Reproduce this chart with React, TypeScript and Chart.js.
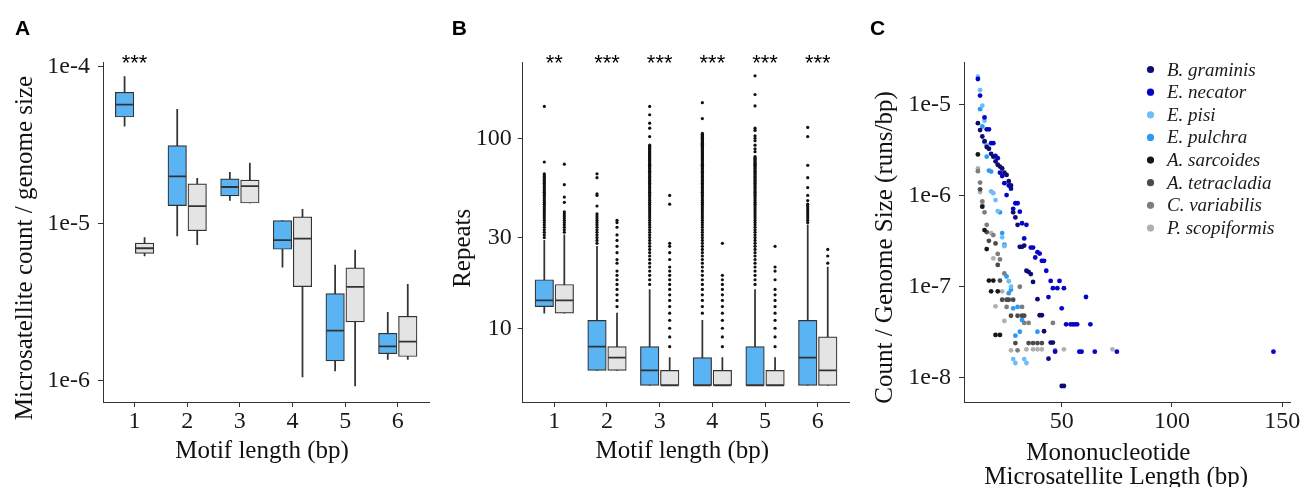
import React, { useEffect, useRef } from "react";
import { Chart, registerables } from "chart.js";
Chart.register(...registerables);

const SERIF = "'Liberation Serif', 'Times New Roman', serif";
const SANS = "'Liberation Sans', Arial, sans-serif";
const INK = "#333333";
const TEXT = "#1a1a1a";
const BLUE = "#5ab4f4";
const GREY = "#e4e4e4";
const DODGE = 0.19;
const BOX_W = 18.5;
const TICK_FONT = 24;

// ---------- shared categories ----------
const motifLengths = [1, 2, 3, 4, 5, 6];
const motifTickLabels = ["1", "2", "3", "4", "5", "6"];

// ---------- Panel A: microsatellite count / genome size ----------
const aBlueMin = [4.2e-5, 8.4e-6, 1.41e-5, 5.3e-6, 1.16e-6, 1.37e-6];
const aBlueQ1 = [4.8e-5, 1.31e-5, 1.51e-5, 6.9e-6, 1.34e-6, 1.49e-6];
const aBlueMed = [5.75e-5, 2.01e-5, 1.72e-5, 7.9e-6, 2.09e-6, 1.66e-6];
const aBlueQ3 = [6.9e-5, 3.16e-5, 1.94e-5, 1.05e-5, 3.6e-6, 2.01e-6];
const aBlueMax = [8.7e-5, 5.37e-5, 2.13e-5, 1.05e-5, 5.48e-6, 2.74e-6];
const aGreyMin = [6.25e-6, 7.38e-6, 1.36e-5, 1.06e-6, 9.3e-7, 1.37e-6];
const aGreyQ1 = [6.5e-6, 9.06e-6, 1.36e-5, 3.99e-6, 2.38e-6, 1.43e-6];
const aGreyMed = [7.0e-6, 1.3e-5, 1.74e-5, 8.06e-6, 3.97e-6, 1.78e-6];
const aGreyQ3 = [7.56e-6, 1.8e-5, 1.9e-5, 1.11e-5, 5.25e-6, 2.58e-6];
const aGreyMax = [8.2e-6, 1.95e-5, 2.44e-5, 1.24e-5, 6.82e-6, 4.13e-6];
const aTickValues = [1e-6, 1e-5, 1e-4];
const aTickLabels = ["1e-6", "1e-5", "1e-4"];
const aSignif = ["***", "", "", "", "", ""];

// ---------- Panel B: repeats ----------
const bBlueMin = [12, 6, 5, 5, 5, 5];
const bBlueQ1 = [13, 6, 5, 5, 5, 5];
const bBlueMed = [14, 8, 6, 5, 5, 7];
const bBlueQ3 = [18, 11, 8, 7, 8, 11];
const bBlueMax = [29, 27, 16, 11, 16, 35];
const bGreyMin = [12, 6, 5, 5, 5, 5];
const bGreyQ1 = [12, 6, 5, 5, 5, 5];
const bGreyMed = [14, 7, 5, 5, 5, 6];
const bGreyQ3 = [17, 8, 6, 6, 6, 9];
const bGreyMax = [31, 12, 7, 7, 7, 21];
const bTickValues = [10, 30, 100];
const bTickLabels = ["10", "30", "100"];
const bSignif = ["**", "***", "***", "***", "***", "***"];

const bBlueOut1 = [30,31,32,33,34,35,36,37,38,39,40,41,42,43,44,45,46,47,48,49,50,51,52,53,54,55,56,57,58,59,60,61,62,63,64,65,75,147];
const bBlueOut2 = [28,29,30,31,32,33,34,35,36,37,38,39,40,44,50,51,62,65];
const bBlueOut3 = [17,18,19,20,21,22,23,24,25,26,27,28,29,30,31,32,33,34,35,36,37,38,39,40,41,42,43,44,45,46,47,48,49,50,51,52,53,54,55,56,57,58,59,60,61,62,63,64,65,66,67,68,69,70,71,72,73,74,75,76,77,78,79,80,81,82,83,84,85,86,87,88,89,90,91,92,102,113,120,133,147];
const bBlueOut4 = [12,13,14,15,16,17,18,19,20,21,22,23,24,25,26,27,28,29,30,31,32,33,34,35,36,37,38,39,40,41,42,43,44,45,46,47,48,49,50,51,52,53,54,55,56,57,58,59,60,61,62,63,64,65,66,67,68,69,70,71,72,73,74,75,76,77,78,79,80,81,82,83,84,85,86,87,88,89,90,91,92,93,94,95,96,97,98,99,100,101,102,103,104,105,106,127,154];
const bBlueOut5 = [17,18,19,20,21,22,23,24,25,26,27,28,29,30,31,32,33,34,35,36,37,38,39,40,41,42,43,44,45,46,47,48,49,50,51,52,53,54,55,56,57,58,59,60,61,62,63,64,65,66,67,68,69,70,71,72,73,74,75,76,77,78,79,80,85,88,92,97,100,103,110,113,148,170,213];
const bBlueOut6 = [36,37,38,39,40,41,42,43,44,45,47,50,55,62,72,102,114];
const bGreyOut1 = [32,33,34,35,36,37,38,39,40,41,46,49,57,73];
const bGreyOut2 = [13,14,15,16,17,18,19,20,22,23,25,27,29,31,34,36,37];
const bGreyOut3 = [8,9,10,11,12,13,14,15,16,17,18,19,20,21,23,25,27,28,45,50];
const bGreyOut4 = [8,9,10,11,12,13,14,15,16,17,18,19,28];
const bGreyOut5 = [8,9,10,11,12,13,14,15,16,18,20,21,27];
const bGreyOut6 = [22,24,26];
const bBlueOutliers = [bBlueOut1, bBlueOut2, bBlueOut3, bBlueOut4, bBlueOut5, bBlueOut6];
const bGreyOutliers = [bGreyOut1, bGreyOut2, bGreyOut3, bGreyOut4, bGreyOut5, bGreyOut6];

// ---------- Panel C: mononucleotide length vs count / genome size ----------
const speciesNames = ["B. graminis", "E. necator", "E. pisi", "E. pulchra", "A. sarcoides", "A. tetracladia", "C. variabilis", "P. scopiformis"];
const speciesColors = ["#0c0c72", "#0505c8", "#6dbdf6", "#2e99f2", "#171717", "#4b4b4b", "#7d7d7d", "#b0b0b0"];
const graminis = [[12,6.3e-6],[13,5.3e-6],[14,4.5e-6],[15,4.0e-6],[16,3.45e-6],[17,3.3e-6],[18,2.9e-6],[19,2.7e-6],[20,2.4e-6],[21,2.2e-6],[22,2.1e-6],[23,2.0e-6],[24,1.8e-6],[25,1.7e-6],[26,1.45e-6],[27,1.3e-6],[28,6.6e-7],[29,5.8e-7],[30,4.8e-7],[31,2.75e-7],[32,2.75e-7],[33,2.84e-7],[34,1.5e-7],[35,1.46e-7],[36,1.38e-7],[37,1.13e-7],[39,7.3e-8],[40,4.86e-8],[41,4.86e-8],[42,3.24e-8],[44,1.62e-8],[45,2.43e-8],[46,2.43e-8],[50,8.1e-9],[51,8.1e-9]];
const necator = [[12,1.93e-5],[13,1.27e-5],[15,7.3e-6],[16,5.4e-6],[17,5.4e-6],[18,3.8e-6],[19,3.8e-6],[20,2.75e-6],[21,2.6e-6],[22,1.8e-6],[23,1.65e-6],[24,1.38e-6],[25,1.02e-6],[26,1.3e-6],[27,1.2e-6],[28,7.2e-7],[29,8.3e-7],[30,8.3e-7],[31,6.7e-7],[32,5.0e-7],[33,3.4e-7],[34,4.8e-7],[36,2.7e-7],[37,2.7e-7],[38,2.1e-7],[39,2.4e-7],[40,2.32e-7],[41,1.93e-7],[42,1.93e-7],[43,1.5e-7],[44,7.7e-8],[45,1.16e-7],[46,9.65e-8],[47,1.93e-8],[48,9.65e-8],[49,1.16e-7],[50,5.79e-8],[51,9.65e-8],[52,3.86e-8],[54,3.86e-8],[55,3.86e-8],[56,3.86e-8],[57,3.86e-8],[58,1.93e-8],[59,1.93e-8],[61,7.72e-8],[63,3.86e-8],[65,1.93e-8],[75,1.93e-8],[146,1.93e-8]];
const pisi = [[12,2.05e-5],[13,1.46e-5],[14,9.8e-6],[15,6.7e-6],[16,3.6e-6],[18,1.12e-6],[19,1.07e-6],[20,9.0e-7],[21,6.8e-7],[23,3.5e-7],[24,2.8e-7],[26,1.15e-7],[27,1.0e-7],[28,1.6e-8],[29,1.45e-8],[33,1.6e-8],[34,1.45e-8]];
const pulchra = [[13,9.0e-6],[14,5.8e-6],[15,3.9e-6],[16,2.7e-6],[17,1.9e-6],[18,1.85e-6],[22,6.6e-7],[23,3.9e-7],[24,2.9e-7],[25,1.3e-7],[26,8.5e-8],[27,9.3e-8],[28,5.8e-8],[29,2.9e-8],[30,6.0e-8],[31,3.2e-8],[32,4.3e-8],[39,3.2e-8]];
const sarcoides = [[12,2.86e-6],[14,7.6e-7],[15,4.2e-7],[16,2.6e-7],[17,1.17e-7],[18,8.9e-8],[19,1.17e-7],[20,2.95e-8],[21,8.9e-8],[22,2.95e-8]];
const tetracladia = [[13,1.18e-6],[16,4.0e-7],[17,3.2e-7],[20,3.0e-7],[21,1.74e-7],[22,1.17e-7],[23,7.2e-8],[25,7.2e-8],[26,7.2e-8],[27,4.8e-8],[28,7.2e-8],[29,2.4e-8],[30,4.8e-8],[32,4.8e-8],[33,4.8e-8],[35,2.4e-8],[37,2.4e-8],[39,2.4e-8],[41,2.4e-8]];
const variabilis = [[12,1.87e-6],[13,1.4e-6],[14,8.7e-7],[15,6.6e-7],[16,4.8e-7],[19,3.7e-7],[21,2.3e-7],[22,2.0e-7],[24,1.4e-7],[25,6.0e-8],[30,2.0e-8],[31,1.0e-7],[32,6.0e-8],[33,4.0e-8],[35,4.0e-8],[46,4.0e-8],[47,2.0e-8]];
const scopiformis = [[12,2.0e-6],[13,1.1e-6],[14,8.0e-7],[18,3.9e-7],[19,2.05e-7],[20,6.1e-8],[23,8.9e-8],[24,4.2e-8],[27,2.0e-8],[34,2.05e-8],[37,2.05e-8],[39,2.05e-8],[41,2.05e-8],[51,2.05e-8],[73,2.05e-8]];
const speciesData = [graminis, necator, pisi, pulchra, sarcoides, tetracladia, variabilis, scopiformis];
const cXTickValues = [50, 100, 150];
const cXTickLabels = ["50", "100", "150"];
const cYTickValues = [1e-8, 1e-7, 1e-6, 1e-5];
const cYTickLabels = ["1e-8", "1e-7", "1e-6", "1e-5"];

// ---------- helpers ----------
function boxDatasets(min: number[], q1: number[], med: number[], q3: number[], max: number[], offset: number, fill: string) {
  const xs = motifLengths.map((m) => m + offset);
  return [
    {
      type: "bar",
      data: xs.map((x, i) => ({ x, y: [min[i], max[i]] })),
      backgroundColor: INK,
      barThickness: 1.1,
      grouped: false,
      order: 5,
    },
    {
      type: "bar",
      data: xs.map((x, i) => ({ x, y: [q1[i], q3[i]] })),
      backgroundColor: fill,
      borderColor: INK,
      borderWidth: 1.2,
      borderSkipped: false,
      barThickness: BOX_W,
      grouped: false,
      order: 4,
    },
    {
      type: "scatter",
      data: xs.map((x, i) => ({ x, y: med[i] })),
      pointStyle: "line",
      pointRadius: BOX_W / 2 - 0.4,
      pointHoverRadius: BOX_W / 2 - 0.4,
      pointBorderWidth: 1.8,
      pointBorderColor: INK,
      order: 2,
    },
  ];
}

function outlierDataset(lists: number[][], offset: number) {
  const pts: { x: number; y: number }[] = [];
  lists.forEach((vals, i) => vals.forEach((v) => pts.push({ x: motifLengths[i] + offset, y: v })));
  return {
    type: "scatter",
    data: pts,
    pointRadius: 1.6,
    pointHoverRadius: 1.6,
    pointBorderWidth: 0,
    backgroundColor: "#111111",
    order: 3,
  };
}

function axisBase(tickPadding: number) {
  return {
    offset: false,
    grid: { display: true, offset: false, drawOnChartArea: false, drawTicks: true, tickLength: 5, color: INK, lineWidth: 1 },
    border: { display: true, color: INK, width: 1 },
    ticks: { font: { family: SERIF, size: TICK_FONT }, color: TEXT, autoSkip: false, maxRotation: 0, padding: tickPadding },
  };
}

type TextCfg = {
  letter: string;
  letterX: number;
  signif?: string[];
  yTitle: string;
  yTitleX: number;
  yTitleY: number;
  xTitles: { text: string; x: number; y: number }[];
  legend?: boolean;
};

function textPlugin(cfg: TextCfg) {
  return {
    id: "panelText",
    afterDraw(chart: any) {
      const ctx = chart.ctx;
      ctx.save();
      ctx.fillStyle = "#000";
      ctx.font = `bold 21px ${SANS}`;
      ctx.textAlign = "left";
      ctx.textBaseline = "alphabetic";
      ctx.fillText(cfg.letter, cfg.letterX, 35);
      if (cfg.signif) {
        ctx.font = `22px ${SANS}`;
        ctx.textAlign = "center";
        cfg.signif.forEach((s, i) => {
          if (!s) return;
          ctx.fillText(s, chart.scales.x.getPixelForValue(motifLengths[i]), 70);
        });
      }
      ctx.fillStyle = "#111";
      ctx.font = `25px ${SERIF}`;
      ctx.textAlign = "center";
      cfg.xTitles.forEach((t) => ctx.fillText(t.text, t.x, t.y));
      ctx.save();
      ctx.translate(cfg.yTitleX, cfg.yTitleY);
      ctx.rotate(-Math.PI / 2);
      ctx.fillText(cfg.yTitle, 0, 0);
      ctx.restore();
      if (cfg.legend) {
        ctx.font = `italic 19px ${SERIF}`;
        ctx.textAlign = "left";
        ctx.textBaseline = "middle";
        chart.data.datasets.forEach((ds: any, i: number) => {
          const y = 69.5 + i * 22.64;
          ctx.fillStyle = ds.backgroundColor;
          ctx.beginPath();
          ctx.arc(290.5, y, 3.6, 0, Math.PI * 2);
          ctx.fill();
          ctx.fillStyle = TEXT;
          ctx.fillText(ds.label, 307, y + 1);
        });
      }
      ctx.restore();
    },
  };
}

function xCategoryAxis() {
  const base = axisBase(0);
  return {
    type: "linear",
    min: 0.4,
    max: 6.6,
    ...base,
    afterBuildTicks: (s: any) => { s.ticks = motifLengths.map((v) => ({ value: v })); },
    ticks: { ...base.ticks, callback: (_v: any, i: number) => motifTickLabels[i] },
    afterFit: (s: any) => { s.height = 85; },
  };
}

function logAxis(min: number, max: number, values: number[], labels: string[], pad: number, width: number) {
  const base = axisBase(pad);
  return {
    type: "logarithmic",
    min,
    max,
    ...base,
    afterBuildTicks: (s: any) => { s.ticks = values.map((v) => ({ value: v })); },
    ticks: { ...base.ticks, callback: (_v: any, i: number) => labels[i] },
    afterFit: (s: any) => { s.width = width; },
  };
}

const commonOptions = (right: number) => ({
  animation: false,
  responsive: false,
  maintainAspectRatio: false,
  layout: { padding: { top: 62, right, left: 0, bottom: 0 } },
  plugins: { legend: { display: false }, tooltip: { enabled: false } },
});

function makeA(): any {
  return {
    type: "scatter",
    data: {
      datasets: [
        ...boxDatasets(aBlueMin, aBlueQ1, aBlueMed, aBlueQ3, aBlueMax, -DODGE, BLUE),
        ...boxDatasets(aGreyMin, aGreyQ1, aGreyMed, aGreyQ3, aGreyMax, DODGE, GREY),
      ],
    },
    options: {
      ...commonOptions(10),
      scales: {
        x: xCategoryAxis(),
        y: logAxis(7.34e-7, 1.076e-4, aTickValues, aTickLabels, 8, 103),
      },
    },
    plugins: [
      textPlugin({
        letter: "A",
        letterX: 15,
        signif: aSignif,
        yTitle: "Microsatellite count / genome size",
        yTitleX: 31.7,
        yTitleY: 248,
        xTitles: [{ text: "Motif length (bp)", x: 262, y: 458 }],
      }),
    ],
  };
}

function makeB(): any {
  return {
    type: "scatter",
    data: {
      datasets: [
        ...boxDatasets(bBlueMin, bBlueQ1, bBlueMed, bBlueQ3, bBlueMax, -DODGE, BLUE),
        ...boxDatasets(bGreyMin, bGreyQ1, bGreyMed, bGreyQ3, bGreyMax, DODGE, GREY),
        outlierDataset(bBlueOutliers, -DODGE),
        outlierDataset(bGreyOutliers, DODGE),
      ],
    },
    options: {
      ...commonOptions(10),
      scales: {
        x: xCategoryAxis(),
        y: logAxis(4.09, 252, bTickValues, bTickLabels, 6, 82.7),
      },
    },
    plugins: [
      textPlugin({
        letter: "B",
        letterX: 11.7,
        signif: bSignif,
        yTitle: "Repeats",
        yTitleX: 29.5,
        yTitleY: 248.3,
        xTitles: [{ text: "Motif length (bp)", x: 242.3, y: 458 }],
      }),
    ],
  };
}

function makeC(): any {
  const base = axisBase(0);
  return {
    type: "scatter",
    data: {
      datasets: speciesData.map((rows, i) => ({
        label: speciesNames[i],
        data: rows.map(([x, y]) => ({ x, y })),
        backgroundColor: speciesColors[i],
        pointRadius: 2.4,
        pointHoverRadius: 2.4,
        pointBorderWidth: 0,
      })),
    },
    options: {
      ...commonOptions(13),
      scales: {
        x: {
          type: "linear",
          min: 5.7,
          max: 153.5,
          ...base,
          afterBuildTicks: (s: any) => { s.ticks = cXTickValues.map((v) => ({ value: v })); },
          ticks: { ...base.ticks, callback: (_v: any, i: number) => cXTickLabels[i] },
          afterFit: (s: any) => { s.height = 85; },
        },
        y: logAxis(5.4e-9, 2.97e-5, cYTickValues, cYTickLabels, 8, 104),
      },
    },
    plugins: [
      textPlugin({
        letter: "C",
        letterX: 10,
        yTitle: "Count / Genome Size (runs/bp)",
        yTitleX: 32,
        yTitleY: 247.5,
        xTitles: [
          { text: "Mononucleotide", x: 248.3, y: 459.5 },
          { text: "Microsatellite Length (bp)", x: 256.2, y: 483.5 },
        ],
        legend: true,
      }),
    ],
  };
}

function Panel({ left, width, make }: { left: number; width: number; make: () => any }) {
  const ref = useRef<HTMLCanvasElement | null>(null);
  useEffect(() => {
    if (!ref.current) return;
    const chart = new Chart(ref.current, make());
    return () => chart.destroy();
  }, []);
  return (
    <canvas
      ref={ref}
      width={width}
      height={487}
      style={{ position: "absolute", left, top: 0, width, height: 487 }}
    />
  );
}

export default function App() {
  return (
    <div style={{ position: "fixed", left: 0, top: 0, width: 1303, height: 487, background: "#ffffff", overflow: "hidden" }}>
      <Panel left={0} width={440} make={makeA} />
      <Panel left={440} width={420} make={makeB} />
      <Panel left={860} width={443} make={makeC} />
    </div>
  );
}
